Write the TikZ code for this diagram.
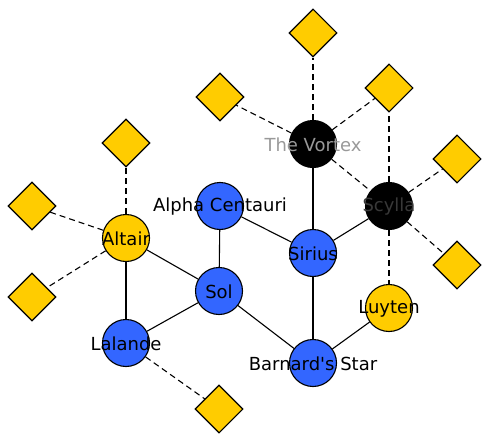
\documentclass[tikz,border=0pt]{standalone}
\usepackage{fontspec}
\setmainfont{DejaVu Sans}
\usepackage{tikz}
\usetikzlibrary{shapes.geometric, backgrounds}

\definecolor{starblue}{HTML}{3366FF}
\definecolor{staryellow}{HTML}{FFCC00}

\begin{document}
\begin{tikzpicture}[x=1pt, y=-1pt,
				   every node/.style={draw=black, line width=1.1pt, inner sep=0pt, font=\fontsize{18}{21}\selectfont},
				   star/.style={circle, minimum size=47pt},
				   bluestar/.style={star, fill=starblue},
				   yellowstar/.style={star, fill=staryellow},
				   blackstar/.style={star, fill=black},
				   outpost/.style={diamond, aspect=1, minimum size=48pt, fill=staryellow},
				   starname/.style={label={[draw=none, yshift=-1pt]center:#1}},
				   link/.style={line width=1.1pt},
				   route/.style={line width=1.1pt, dash pattern=on 6pt off 4pt}]
\useasboundingbox (0,0) rectangle (492,441);
% stars
\node[yellowstar, starname=Altair] (Altair) at (126,238) {};
\node[bluestar, starname=Lalande] (Lalande) at (126,343) {};
\node[bluestar, starname=Sol] (Sol) at (219,291) {};
\node[bluestar, starname=Alpha Centauri] (Alpha) at (220,206) {};
\node[bluestar, starname=Barnard\textquotesingle s Star] (Barnard) at (313,363) {};
\node[bluestar, starname=Sirius] (Sirius) at (313,253) {};
\node[yellowstar, starname=Luyten] (Luyten) at (389,308) {};
\node[blackstar, label={[draw=none, yshift=-1pt, text=black!40]center:The Vortex}] (Vortex) at (313,144) {};
\node[blackstar, label={[draw=none, yshift=-1pt, text=black!78]center:Scylla}] (Scylla) at (389,206) {};
% outposts
\node[outpost] (V1) at (313,33) {};
\node[outpost] (V2) at (220,97) {};
\node[outpost] (V3) at (389,88) {};
\node[outpost] (S1) at (457,159) {};
\node[outpost] (S2) at (457,265) {};
\node[outpost] (A1) at (126,143) {};
\node[outpost] (A2) at (32,206) {};
\node[outpost] (A3) at (32,297) {};
\node[outpost] (L1) at (219,409) {};
\begin{scope}[on background layer]
\draw[link] (Altair) -- (Lalande);
\draw[link] (Altair) -- (Sol);
\draw[link] (Lalande) -- (Sol);
\draw[link] (Sol) -- (Alpha);
\draw[link] (Sol) -- (Barnard);
\draw[link] (Alpha) -- (Sirius);
\draw[link] (Sirius) -- (Vortex);
\draw[link] (Sirius) -- (Scylla);
\draw[link] (Sirius) -- (Barnard);
\draw[link] (Barnard) -- (Luyten);
\draw[route] (Vortex) -- (V1);
\draw[route] (Vortex) -- (V2);
\draw[route] (Vortex) -- (V3);
\draw[route] (Vortex) -- (Scylla);
\draw[route] (Scylla) -- (V3);
\draw[route] (Scylla) -- (S1);
\draw[route] (Scylla) -- (S2);
\draw[route] (Scylla) -- (Luyten);
\draw[route] (Altair) -- (A1);
\draw[route] (Altair) -- (A2);
\draw[route] (Altair) -- (A3);
\draw[route] (Lalande) -- (L1);
\end{scope}
\end{tikzpicture}
\end{document}
